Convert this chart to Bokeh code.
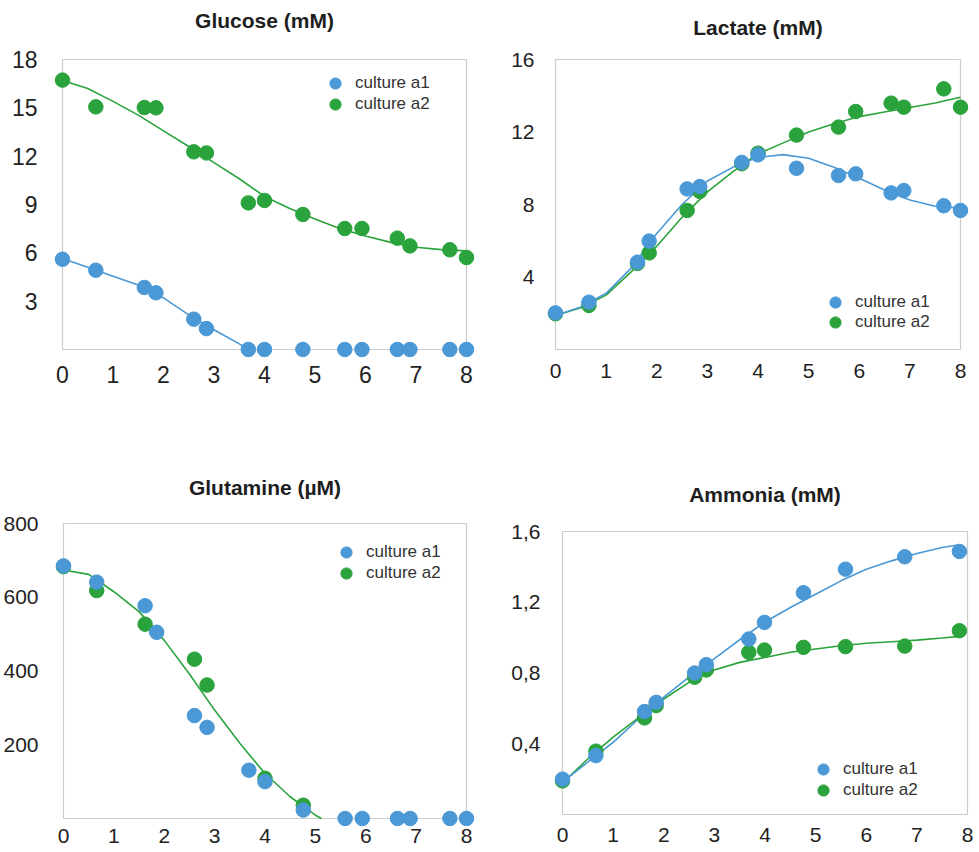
from bokeh.plotting import figure
from bokeh.layouts import column, row
from bokeh.models import Range1d, FixedTicker, BoxAnnotation, Legend, LegendItem
from bokeh.embed import file_html
from bokeh.resources import INLINE

# ---------------------------------------------------------------- data
day_ticks = [0, 1, 2, 3, 4, 5, 6, 7, 8]
sample_days = [0, 0.66, 1.62, 1.85, 2.6, 2.85, 3.68, 4.0, 4.76, 5.59, 5.93, 6.63, 6.88, 7.67, 8.0]
fit_days = [0, 0.5, 1, 1.5, 2, 2.5, 3, 3.5, 4, 4.5, 5, 5.5, 6, 6.5, 7, 7.5, 8]

# Glucose (mM)
glc_a1 = [5.6, 4.92, 3.85, 3.52, 1.88, 1.30, 0, 0, 0, 0, 0, 0, 0, 0, 0]
glc_a2 = [16.72, 15.06, 15.02, 15.0, 12.27, 12.2, 9.1, 9.25, 8.38, 7.51, 7.51, 6.91, 6.43, 6.19, 5.71]
glc_fit_a1_days = [0, 0.5, 1, 1.5, 2, 2.5, 3, 3.5, 3.68]
glc_fit_a1 = [5.65, 5.1, 4.55, 4.0, 3.2, 2.15, 1.23, 0.35, 0.0]
glc_fit_a2 = [16.7, 16.2, 15.4, 14.55, 13.57, 12.6, 11.6, 10.6, 9.5, 8.75, 8.1, 7.5, 7.05, 6.65, 6.35, 6.2, 6.12]
glc_y_ticks = [3, 6, 9, 12, 15, 18]

# Lactate (mM)
lac_a1 = [2.02, 2.61, 4.82, 5.98, 8.86, 8.99, 10.32, 10.74, 10.0, 9.6, 9.69, 8.64, 8.77, 7.93, 7.67]
lac_a2 = [1.97, 2.43, 4.75, 5.33, 7.67, 8.72, 10.25, 10.83, 11.83, 12.27, 13.13, 13.59, 13.37, 14.38, 13.37]
lac_fit_a1 = [1.88, 2.35, 3.1, 4.5, 6.4, 8.0, 9.3, 10.05, 10.6, 10.75, 10.55, 10.05, 9.45, 8.8, 8.25, 7.9, 7.8]
lac_fit_a2 = [1.88, 2.3, 3.0, 4.3, 5.7, 7.3, 8.7, 9.8, 10.8, 11.4, 12.0, 12.45, 12.85, 13.1, 13.35, 13.6, 13.92]
lac_y_ticks = [4, 8, 12, 16]

# Glutamine (µM)
gln_a1 = [685, 641, 577, 505, 279, 247, 131, 100, 23, 0, 0, 0, 0, 0, 0]
gln_a2_days = [0, 0.66, 1.62, 2.6, 2.85, 4.0, 4.76]
gln_a2 = [683, 618, 527, 432, 362, 109, 36]
gln_fit_days = [0, 0.5, 1, 1.5, 2, 2.5, 3, 3.5, 4, 4.5, 5, 5.12]
gln_fit_a2 = [674, 662, 615, 561, 483, 392, 294, 204, 122, 59, 9, 0]
gln_y_ticks = [200, 400, 600, 800]

# Ammonia (mM)
amm_days = [0, 0.66, 1.62, 1.85, 2.61, 2.84, 3.68, 3.99, 4.76, 5.59, 6.76, 7.84]
amm_a1 = [0.20, 0.333, 0.582, 0.634, 0.80, 0.847, 0.992, 1.086, 1.254, 1.387, 1.457, 1.487]
amm_a2 = [0.19, 0.358, 0.546, 0.616, 0.776, 0.817, 0.917, 0.93, 0.945, 0.949, 0.952, 1.039]
amm_fit_days = [0, 0.5, 1, 1.5, 2, 2.5, 3, 3.5, 4, 4.5, 5, 5.5, 6, 6.5, 7, 7.5, 7.84]
amm_fit_a1 = [0.183, 0.296, 0.408, 0.54, 0.663, 0.776, 0.881, 0.988, 1.088, 1.17, 1.245, 1.321, 1.387, 1.434, 1.476, 1.51, 1.525]
amm_fit_a2 = [0.177, 0.314, 0.437, 0.546, 0.653, 0.747, 0.817, 0.86, 0.888, 0.917, 0.936, 0.954, 0.968, 0.977, 0.986, 0.998, 1.007]
amm_y_ticks = [0.4, 0.8, 1.2, 1.6]
amm_y_labels = ["0,4", "0,8", "1,2", "1,6"]

series_names = ["culture a1", "culture a2"]

# ---------------------------------------------------------------- style
BLUE = "#4a98d6"
GREEN = "#2aa33c"
FONT = "Liberation Sans"
PAD = 9          # horizontal room around the data box so edge markers are not clipped
DOT = 14.5
LEG_G = 28       # legend glyph box (marker drawn at 0.4 of it)


def panel(title, width, height, box, frame_tb, y_max, y_ticks, tick_px, y_standoff, x_standoff,
          title_standoff, legend_dots, y_labels=None):
    left, right, top, bottom = box
    f_top, f_bottom = frame_tb
    ux = 8 / (right - left)
    uy = y_max / (bottom - top)
    p = figure(width=width, height=height, output_backend="svg", toolbar_location=None,
               x_range=Range1d(-PAD * ux, 8 + PAD * ux),
               y_range=Range1d(-(f_bottom - bottom) * uy, y_max + (top - f_top) * uy),
               min_border_left=left - PAD, min_border_right=width - right - PAD,
               min_border_top=f_top, min_border_bottom=height - f_bottom,
               title=title)
    p.outline_line_color = None
    p.grid.visible = False
    p.background_fill_color = "white"
    p.border_fill_color = "white"

    p.title.text_font = FONT
    p.title.text_font_size = "21px"
    p.title.text_font_style = "bold"
    p.title.text_color = "#1e1e1e"
    p.title.align = "center"
    p.title.standoff = title_standoff

    for ax in (p.xaxis[0], p.yaxis[0]):
        ax.axis_line_color = None
        ax.major_tick_line_color = None
        ax.minor_tick_line_color = None
        ax.major_tick_out = 0
        ax.major_tick_in = 0
        ax.major_label_text_font = FONT
        ax.major_label_text_font_size = f"{tick_px}px"
        ax.major_label_text_color = "#222222"
    p.xaxis.ticker = FixedTicker(ticks=day_ticks)
    p.yaxis.ticker = FixedTicker(ticks=y_ticks)
    p.xaxis.major_label_standoff = x_standoff
    p.yaxis.major_label_standoff = y_standoff
    if y_labels is not None:
        p.yaxis.major_label_overrides = dict(zip(y_ticks, y_labels))

    p.add_layout(BoxAnnotation(left=0, right=8, bottom=0, top=y_max,
                               fill_color=None, line_color="#555555", line_width=1.2,
                               level="underlay"))
    p._legend_dots = legend_dots
    p._frame_corner = (left - PAD, f_bottom)
    return p


def add_legend(p, renderers):
    fl, fb = p._frame_corner
    for name, r, (cx, cy) in zip(series_names, renderers, p._legend_dots):
        leg = Legend(items=[LegendItem(label=name, renderers=[r])],
                     location=(cx - LEG_G / 2 - fl, fb - (cy + LEG_G / 2)),
                     glyph_width=LEG_G, glyph_height=LEG_G, spacing=0, padding=0, margin=0,
                     label_standoff=6, label_text_font=FONT, label_text_font_size="17px",
                     label_text_color="#333333", border_line_color=None,
                     background_fill_alpha=0)
        p.add_layout(leg)


TOP_H = 424
BOT_H = 428

# Glucose
p1 = panel("Glucose (mM)", 490, TOP_H, (62, 466, 59, 349), (38, 358), 18, glc_y_ticks, 23, 16, 7, 13,
           [(335, 83), (335, 104)])
p1.line(fit_days, glc_fit_a2, line_color=GREEN, line_width=1.6)
p1.line(glc_fit_a1_days, glc_fit_a1, line_color=BLUE, line_width=1.6)
g2 = p1.scatter(sample_days, glc_a2, size=DOT, color=GREEN)
g1 = p1.scatter(sample_days, glc_a1, size=DOT, color=BLUE)
add_legend(p1, [g1, g2])

# Lactate
p2 = panel("Lactate (mM)", 489, TOP_H, (65, 470, 59, 349), (38, 358), 16, lac_y_ticks, 21, 12, 5, 0,
           [(345, 302), (345, 322)])
p2.line(fit_days, lac_fit_a2, line_color=GREEN, line_width=1.6)
p2.line(fit_days, lac_fit_a1, line_color=BLUE, line_width=1.6)
l2 = p2.scatter(sample_days, lac_a2, size=DOT, color=GREEN)
l1 = p2.scatter(sample_days, lac_a1, size=DOT, color=BLUE)
add_legend(p2, [l1, l2])

# Glutamine
p3 = panel("Glutamine (µM)", 490, BOT_H, (62, 466, 99, 394), (90, 402), 800, gln_y_ticks, 21, 16, 2, 31,
           [(345, 128), (345, 149)])
p3.line(gln_fit_days, gln_fit_a2, line_color=GREEN, line_width=1.6)
q2 = p3.scatter(gln_a2_days, gln_a2, size=DOT, color=GREEN)
q1 = p3.scatter(sample_days, gln_a1, size=DOT, color=BLUE)
add_legend(p3, [q1, q2])

# Ammonia
p4 = panel("Ammonia (mM)", 489, BOT_H, (72, 477, 107, 390), (90, 402), 1.6, amm_y_ticks, 21, 13, 1, 18,
           [(333, 345), (333, 366)], y_labels=amm_y_labels)
p4.line(amm_fit_days, amm_fit_a2, line_color=GREEN, line_width=1.6)
p4.line(amm_fit_days, amm_fit_a1, line_color=BLUE, line_width=1.6)
a2 = p4.scatter(amm_days, amm_a2, size=DOT, color=GREEN)
a1 = p4.scatter(amm_days, amm_a1, size=DOT, color=BLUE)
add_legend(p4, [a1, a2])

layout = column(row(p1, p2), row(p3, p4))
open("out.html", "w").write(file_html(layout, INLINE))
